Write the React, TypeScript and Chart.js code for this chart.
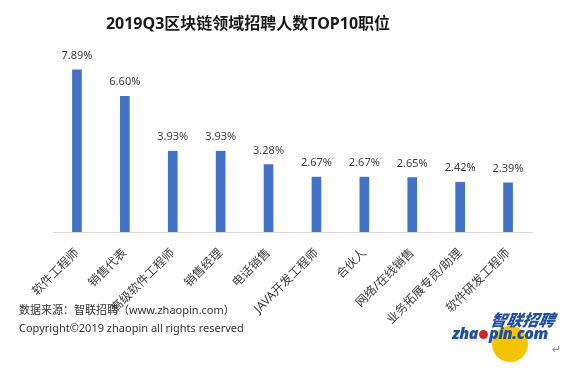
import React, { useEffect, useRef } from "react";
import { Chart, registerables } from "chart.js";

Chart.register(...registerables);

const TITLE = "2019Q3区块链领域招聘人数TOP10职位";
const categories = [
  "软件工程师",
  "销售代表",
  "高级软件工程师",
  "销售经理",
  "电话销售",
  "JAVA开发工程师",
  "合伙人",
  "网络/在线销售",
  "业务拓展专员/助理",
  "软件研发工程师",
];
const shares = [7.89, 6.6, 3.93, 3.93, 3.28, 2.67, 2.67, 2.65, 2.42, 2.39];
const valueLabels = ["7.89%", "6.60%", "3.93%", "3.93%", "3.28%", "2.67%", "2.67%", "2.65%", "2.42%", "2.39%"];
const SOURCE = "数据来源：智联招聘（www.zhaopin.com）";
const COPYRIGHT = "Copyright©2019 zhaopin all rights reserved";
const LOGO_CN = "智联招聘";
const LOGO_A = "zha";
const LOGO_B = "pin.com";

const FONT = "'Noto Sans', 'Noto Sans CJK SC', sans-serif";

const titlePlugin = {
  id: "customTitle",
  afterDraw(chart: any) {
    const ctx = chart.ctx;
    ctx.save();
    ctx.font = `bold 16px 'Noto Sans', 'Noto Sans CJK SC', sans-serif`;
    ctx.fillStyle = "#1a1a1a";
    ctx.textAlign = "center";
    ctx.textBaseline = "middle";
    ctx.fillText(TITLE, 248, 24);
    ctx.restore();
  },
};

const valueLabelPlugin = {
  id: "valueLabels",
  afterDatasetsDraw(chart: any) {
    const ctx = chart.ctx;
    const meta = chart.getDatasetMeta(0);
    ctx.save();
    ctx.font = `11px ${FONT}`;
    ctx.fillStyle = "#404040";
    ctx.textAlign = "center";
    ctx.textBaseline = "middle";
    meta.data.forEach((bar: any, i: number) => {
      ctx.fillText(valueLabels[i], bar.x, bar.y - 14);
    });
    ctx.restore();
  },
};

export default function App() {
  const canvasRef = useRef<HTMLCanvasElement | null>(null);

  useEffect(() => {
    if (!canvasRef.current) return;
    const chart = new Chart(canvasRef.current, {
      type: "bar",
      data: {
        labels: categories,
        datasets: [
          {
            data: shares,
            backgroundColor: "#4472C4",
            barThickness: 9,
          },
        ],
      },
      options: {
        animation: false,
        responsive: false,
        maintainAspectRatio: false,
        layout: { padding: { left: 53, right: 48, top: 47, bottom: 0 } },
        plugins: {
          legend: { display: false },
          title: { display: false },
          tooltip: { enabled: false },
        },
        scales: {
          x: {
            grid: { display: false },
            border: { display: true, color: "#d9d9d9", width: 1 },
            ticks: {
              color: "#404040",
              font: { family: FONT, size: 12 },
              minRotation: 45,
              maxRotation: 45,
              autoSkip: false,
              padding: 6,
            },
            afterFit: (scale: any) => {
              scale.height = 136;
            },
          },
          y: {
            display: false,
            min: 0,
            max: 9,
          },
        },
      },
      plugins: [titlePlugin, valueLabelPlugin],
    });
    return () => chart.destroy();
  }, []);

  return (
    <div
      style={{
        position: "fixed",
        left: 0,
        top: 0,
        width: 580,
        height: 368,
        background: "#ffffff",
        overflow: "hidden",
      }}
    >
      <canvas ref={canvasRef} width={580} height={368} style={{ position: "absolute", left: 0, top: 0 }} />
      <div
        style={{
          position: "absolute",
          left: 19,
          top: 301,
          fontFamily: FONT,
          fontSize: 11,
          lineHeight: "18px",
          color: "#333333",
          whiteSpace: "nowrap",
        }}
      >
        <div>{SOURCE}</div>
        <div>{COPYRIGHT}</div>
      </div>
      <div
        style={{
          position: "absolute",
          left: 492,
          top: 326,
          width: 36,
          height: 36,
          borderRadius: "50%",
          background: "#f6c300",
        }}
      />
      <div
        style={{
          position: "absolute",
          left: 491,
          top: 309,
          fontFamily: "'Noto Sans CJK SC', sans-serif",
          fontWeight: 900,
          fontStyle: "italic",
          fontSize: 16,
          lineHeight: "20px",
          color: "#1f4f9e",
          whiteSpace: "nowrap",
          transform: "skewX(-10deg)",
        }}
      >
        {LOGO_CN}
      </div>
      <div
        style={{
          position: "absolute",
          left: 452,
          top: 323,
          fontFamily: "'Noto Sans', sans-serif",
          fontWeight: 900,
          fontStyle: "italic",
          fontSize: 16,
          lineHeight: "20px",
          color: "#1f4f9e",
          whiteSpace: "nowrap",
          display: "flex",
          alignItems: "center",
          letterSpacing: "-0.5px",
        }}
      >
        <span>{LOGO_A}</span>
        <span
          style={{
            display: "inline-block",
            width: 9,
            height: 9,
            borderRadius: "50%",
            background: "#d6202a",
            margin: "3px 1px 0 1px",
          }}
        />
        <span>{LOGO_B}</span>
      </div>
      <div
        style={{
          position: "absolute",
          left: 552,
          top: 343,
          fontSize: 11,
          color: "#888888",
          fontFamily: "'DejaVu Sans', sans-serif",
        }}
      >
        ↵
      </div>
    </div>
  );
}
